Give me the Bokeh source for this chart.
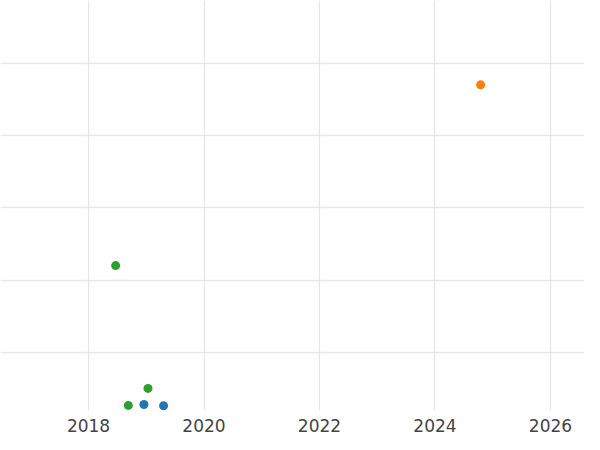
from bokeh.plotting import figure
from bokeh.models import FixedTicker, Range1d
from bokeh.embed import file_html
from bokeh.resources import INLINE

# Data
blue_x = [2018.96, 2019.30]
blue_y = [5.75, 5.4]
orange_x = [2024.79]
orange_y = [94.0]
green_x = [2018.47, 2019.03, 2018.69]
green_y = [44.1, 10.2, 5.5]

x_ticks = [2018, 2020, 2022, 2024, 2026]
y_grid = [20, 40, 60, 80, 100]

p = figure(width=584, height=434, output_backend="svg", toolbar_location=None,
           x_range=Range1d(2016.476, 2026.589), y_range=Range1d(4.1, 117.26),
           min_border_left=0, min_border_right=0, min_border_top=0, min_border_bottom=0)

p.outline_line_color = None
p.background_fill_color = "white"
p.border_fill_color = "white"

for xs, ys, c in [(blue_x, blue_y, "#1f77b4"), (orange_x, orange_y, "#ff7f0e"), (green_x, green_y, "#2ca02c")]:
    p.scatter(x=xs, y=ys, size=9, fill_color=c, line_color=None)

p.xaxis.ticker = FixedTicker(ticks=x_ticks)
p.xaxis.axis_line_color = None
p.xaxis.major_tick_line_color = None
p.xaxis.minor_tick_line_color = None
p.xaxis.major_label_text_font = "DejaVu Sans"
p.xaxis.major_label_text_font_size = "17px"
p.xaxis.major_label_text_color = "#444444"
p.xaxis.major_label_standoff = 2

p.yaxis.visible = False
p.xgrid.ticker = FixedTicker(ticks=x_ticks)
p.ygrid.ticker = FixedTicker(ticks=y_grid)
p.xgrid.grid_line_color = "#e6e6e6"
p.ygrid.grid_line_color = "#e6e6e6"
p.xgrid.grid_line_width = 1.3
p.ygrid.grid_line_width = 1.3

open("out.html", "w").write(file_html(p, INLINE))
